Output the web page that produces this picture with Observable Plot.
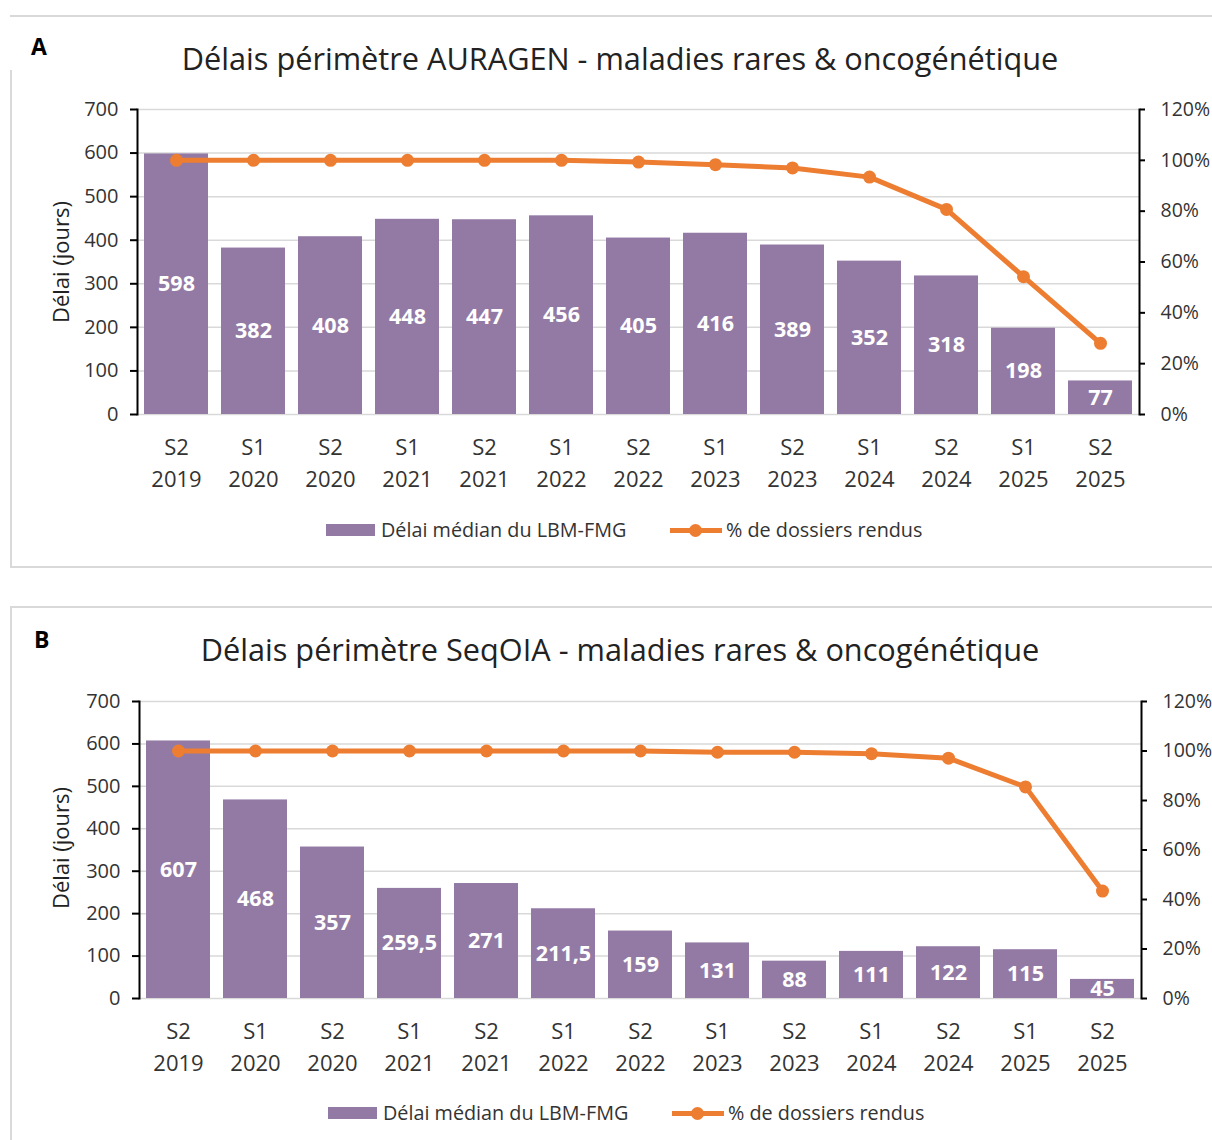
<!DOCTYPE html>
<html><head><meta charset="utf-8">
<script src="https://cdn.jsdelivr.net/npm/d3@7"></script>
<script src="https://cdn.jsdelivr.net/npm/@observablehq/plot@0.6"></script>
<style>
body{margin:0;background:#fff;font-family:"Open Sans","Noto Sans",sans-serif;}
#page{position:relative;width:1212px;height:1140px;overflow:hidden;}
.panel{position:absolute;left:10px;width:1220px;border:2px solid #d9d9d9;border-right:none;box-sizing:border-box;}
.cover{position:absolute;background:#fff;}
.tag{position:absolute;font-weight:bold;font-size:23px;color:#000;line-height:23px;}
.title{position:absolute;left:0;width:1240px;text-align:center;font-size:30.7px;color:#222;line-height:30.7px;white-space:nowrap;}
.ylab{position:absolute;width:200px;text-align:center;transform:rotate(-90deg);font-size:22px;color:#222;white-space:nowrap;line-height:24px;}
.ltext{position:absolute;font-size:19.8px;color:#333;line-height:19.8px;white-space:nowrap;}
.sw{position:absolute;}
svg.chart{position:absolute;left:0;}
</style>
</head><body><div id="page"></div>
<script>
const periods = ["S2 2019","S1 2020","S2 2020","S1 2021","S2 2021","S1 2022","S2 2022","S1 2023","S2 2023","S1 2024","S2 2024","S1 2025","S2 2025"];
const delaiA = [598,382,408,448,447,456,405,416,389,352,318,198,77];
const pctA   = [100,100,100,100,100,100,99.3,98.3,97,93.4,80.7,54.2,28];
const delaiB = [607,468,357,259.5,271,211.5,159,131,88,111,122,115,45];
const pctB   = [100,100,100,100,100,100,100,99.5,99.5,98.9,97.1,85.5,43.4];
const delaiTicks = [0,100,200,300,400,500,600,700];
const pctTicks = [0,20,40,60,80,100,120];
const titleA = "Délais périmètre AURAGEN - maladies rares & oncogénétique";
const titleB = "Délais périmètre SeqOIA - maladies rares & oncogénétique";
const yTitle = "Délai (jours)";
const legendBar = "Délai médian du LBM-FMG";
const legendLine = "% de dossiers rendus";
const purple = "#937aa5", orange = "#ed7d31";
const delaiMax = 700, pctMax = 120;

const page = document.getElementById("page");
function el(cls, css, text){const d=document.createElement("div");d.className=cls;Object.assign(d.style,css);if(text!=null)d.textContent=text;page.appendChild(d);return d;}

function chart(o){
  const data = periods.map((p,i)=>({period:p, delai:o.delai[i], pct:o.pct[i]}));
  const toY = p => p*delaiMax/pctMax;
  const svg = Plot.plot({
    width:1212, height:o.height, marginLeft:o.ml, marginRight:o.mr, marginTop:o.mt, marginBottom:o.mb,
    style:{fontFamily:"Open Sans", color:"#333", background:"transparent", overflow:"visible"},
    x:{domain:periods, paddingInner:0.17, paddingOuter:0.085, axis:null},
    y:{domain:[0,delaiMax], axis:null},
    marks:[
      Plot.gridY(delaiTicks, {stroke:"#d9d9d9", strokeOpacity:1, strokeWidth:1.5}),
      Plot.barY(data, {x:"period", y:"delai", fill:purple}),
      Plot.frame({anchor:"left", stroke:"#000", strokeWidth:2}),
      Plot.frame({anchor:"right", stroke:"#000", strokeWidth:2}),
      Plot.axisY(delaiTicks, {anchor:"left", tickSize:7, tickPadding:12, fontSize:20, label:null, stroke:"#000", strokeWidth:2, fill:"#333"}),
      Plot.axisY(pctTicks.map(toY), {anchor:"right", tickSize:5, tickPadding:16, fontSize:19.5, label:null, stroke:"#000", strokeWidth:2, fill:"#333", tickFormat:d=>Math.round(d*pctMax/delaiMax)+"%"}),
      Plot.axisX({anchor:"bottom", tickSize:0, tickPadding:25, fontSize:22, label:null, fill:"#333", tickFormat:d=>d.split(" ")[0]}),
      Plot.axisX({anchor:"bottom", tickSize:0, tickPadding:57, fontSize:22, label:null, fill:"#333", tickFormat:d=>d.split(" ")[1]}),
      Plot.text(data, {x:"period", y:d=>d.delai/2, text:d=>String(d.delai).replace(".",","), fill:"#fff", fontWeight:"bold", fontSize:21.5}),
      Plot.line(data, {x:"period", y:d=>toY(d.pct), stroke:orange, strokeWidth:5}),
      Plot.dot(data, {x:"period", y:d=>toY(d.pct), r:6.5, fill:orange})
    ]
  });
  svg.classList.add("chart");
  svg.style.top = o.top+"px";
  page.appendChild(svg);
}

function legend(top, x0){
  el("sw", {left:x0+"px", top:(top-6)+"px", width:"49px", height:"12px", background:purple});
  el("ltext", {left:(x0+55)+"px", top:(top-10.5)+"px"}, legendBar);
  el("sw", {left:(x0+344)+"px", top:(top-2.5)+"px", width:"52px", height:"5px", background:orange});
  el("sw", {left:(x0+363)+"px", top:(top-6.5)+"px", width:"13px", height:"13px", borderRadius:"6.5px", background:orange});
  el("ltext", {left:(x0+400)+"px", top:(top-10.5)+"px"}, legendLine);
}

// Panel A
el("panel", {top:"15px", height:"553px"});
el("cover", {left:"10px", top:"17px", width:"54px", height:"53px"});
el("tag", {left:"31px", top:"35px"}, "A");
el("title", {top:"42.7px"}, titleA);
el("ylab", {left:"-40px", top:"250px"}, yTitle);
chart({delai:delaiA, pct:pctA, top:90, height:420, ml:137, mr:73, mt:19, mb:96});
legend(530, 326);

// Panel B
el("panel", {top:"606px", height:"560px"});
el("tag", {left:"34px", top:"628px"}, "B");
el("title", {top:"633.7px"}, titleB);
el("ylab", {left:"-40px", top:"836px"}, yTitle);
chart({delai:delaiB, pct:pctB, top:680, height:420, ml:139, mr:71, mt:21, mb:102});
legend(1113, 328);
</script>
</body></html>
